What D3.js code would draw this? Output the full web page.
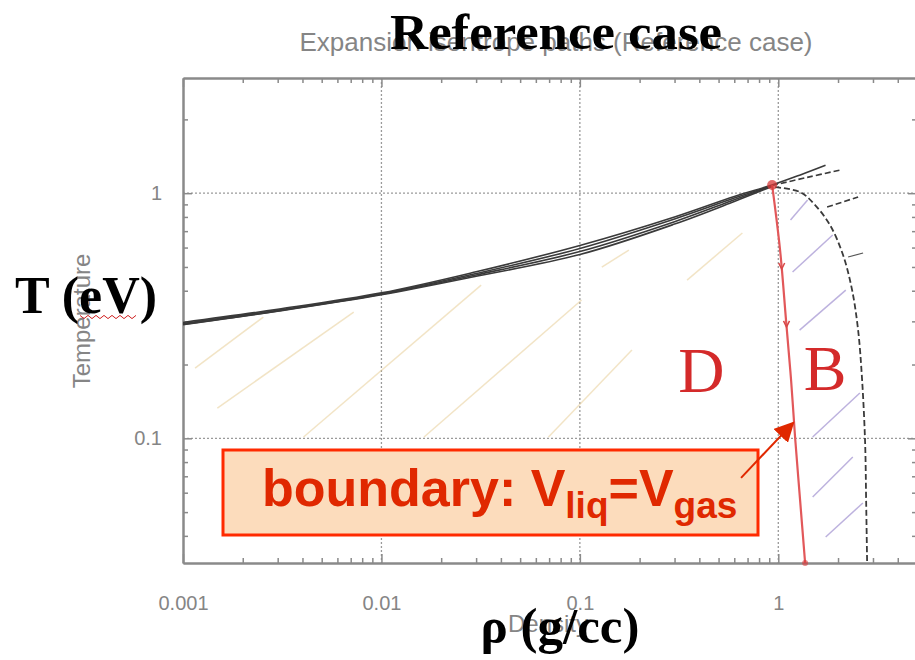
<!DOCTYPE html>
<html>
<head>
<meta charset="utf-8">
<script src="https://cdn.jsdelivr.net/npm/d3@7"></script>
<style>
  body { margin: 0; background: #fff; }
  svg { display: block; }
</style>
</head>
<body>
<svg id="chart" width="915" height="660"></svg>
<script>
// ---- axis ticks ----
const rhoTicks = [0.001, 0.01, 0.1, 1];
const rhoTickLabels = ["0.001", "0.01", "0.1", "1"];
const tempTicks = [0.1, 1];
const tempTickLabels = ["0.1", "1"];

// ---- expansion isentropes: [rho (g/cc), T (eV)] ----
const isentropeA = [[0.001,0.297],[0.003,0.336],[0.01,0.392],[0.03,0.478],[0.1,0.612],[0.3,0.80],[0.6,0.97],[0.93,1.08],[1.3,1.19],[1.73,1.30]];
const isentropeB = [[0.001,0.294],[0.003,0.333],[0.01,0.389],[0.03,0.470],[0.1,0.595],[0.3,0.785],[0.6,0.955],[0.93,1.075]];
const isentropeBTail = [[0.93,1.075],[1.4,1.16],[2.05,1.243]];
const isentropeC = [[0.001,0.292],[0.003,0.331],[0.01,0.387],[0.03,0.464],[0.1,0.578],[0.3,0.765],[0.6,0.94],[0.93,1.07]];
const isentropeD = [[0.001,0.291],[0.003,0.330],[0.01,0.385],[0.03,0.458],[0.1,0.562],[0.3,0.748],[0.6,0.925],[0.93,1.065]];

// ---- binodal dome (dashed) ----
const binodal = [[0.963,1.058],[1.288,1.01],[1.533,0.894],[1.824,0.740],[2.122,0.558],[2.355,0.402],[2.525,0.276],[2.645,0.1725],[2.739,0.0954],[2.771,0.0558],[2.803,0.031]];
const outerBranch = [[1.762,0.878],[2.525,0.965]];
const shortBranch = [[2.248,0.549],[2.675,0.570]];

// ---- V_liq = V_gas boundary ----
const boundary = [[0.931,1.078],[1.021,0.585],[1.094,0.303],[1.160,0.1725],[1.215,0.101],[1.288,0.0558],[1.365,0.031]];
const boundaryMarks = [[1.04,0.50],[1.10,0.29]];
const criticalPoint = [0.931, 1.08];

// ---- region shading strokes: [[rho,T],[rho,T]] ----
const regionDHatch = [
  [[0.00115,0.1935],[0.00254,0.3124]],
  [[0.00149,0.1329],[0.00725,0.3274]],
  [[0.00405,0.1012],[0.0318,0.4218]],
  [[0.0164,0.1012],[0.102,0.3665]],
  [[0.0695,0.1012],[0.183,0.229]],
  [[0.129,0.4995],[0.1766,0.586]],
  [[0.347,0.442],[0.659,0.688]]
];
const regionBHatch = [
  [[1.152,0.777],[1.405,0.937]],
  [[1.18,0.4767],[1.88,0.675]],
  [[1.28,0.2764],[2.188,0.4025]],
  [[1.49,0.1012],[2.576,0.153]],
  [[1.49,0.0576],[2.374,0.0839]],
  [[1.733,0.0396],[2.668,0.0545]]
];

// ---- region labels ----
const regionLabels = [{text:"D", rho:0.41, T:0.155}, {text:"B", rho:1.72, T:0.157}];

// ---- annotation arrow: tail -> tip ----
const arrowPts = [[0.649,0.069],[1.187,0.1156]];

const svg = d3.select("#chart");
const x = d3.scaleLog().domain([0.001, 5]).range([183, 917]);
const y = d3.scaleLog().domain([0.031, 2.95]).range([563, 78]);

const minorOf = (dom) => {
  const out = [];
  for (let e = -3; e <= 1; e++) for (let k = 2; k <= 9; k++) {
    const v = k * Math.pow(10, e);
    if (v > dom[0] * 1.0001 && v < dom[1] * 0.9999) out.push(v);
  }
  return out;
};
const xMinor = minorOf(x.domain());
const yMinor = minorOf(y.domain());

const grayTxt = "#858585";
const axisCol = "#8a8a8a";

// gnuplot-style labels underneath
svg.append("text")
  .attr("x", 556).attr("y", 51)
  .attr("text-anchor", "middle")
  .attr("font-family", "Liberation Sans, Arial, sans-serif")
  .attr("font-size", 26).attr("fill", grayTxt)
  .text("Expansion isentrope paths (Reference case)");
svg.append("text")
  .attr("transform", "translate(90,321) rotate(-90)")
  .attr("text-anchor", "middle")
  .attr("font-family", "Liberation Sans, Arial, sans-serif")
  .attr("font-size", 24).attr("fill", grayTxt)
  .text("Temperature");
svg.append("text")
  .attr("x", 548).attr("y", 632)
  .attr("text-anchor", "middle")
  .attr("font-family", "Liberation Sans, Arial, sans-serif")
  .attr("font-size", 24).attr("fill", grayTxt)
  .text("Density");

// grid (dotted)
const grid = svg.append("g").attr("stroke", "#9a9a9a").attr("stroke-width", 1.3).attr("stroke-dasharray", "2,2");
grid.selectAll("line.gx").data(rhoTicks.slice(1)).join("line")
  .attr("x1", d => x(d)).attr("x2", d => x(d))
  .attr("y1", y.range()[1]).attr("y2", y.range()[0]);
grid.selectAll("line.gy").data(tempTicks).join("line")
  .attr("class", "gy")
  .attr("x1", x.range()[0]).attr("x2", x.range()[1])
  .attr("y1", d => y(d)).attr("y2", d => y(d));

// axes with inward ticks
function styleAxis(g) {
  g.selectAll(".domain").attr("stroke", axisCol).attr("stroke-width", 2);
  g.selectAll(".tick line").attr("stroke", axisCol).attr("stroke-width", 1.5);
  g.selectAll(".tick text").attr("fill", grayTxt)
    .attr("font-family", "Liberation Sans, Arial, sans-serif").attr("font-size", 20);
}
const [y0, y1] = y.range();
const [x0, x1] = x.range();

svg.append("g").attr("transform", `translate(0,${y0})`)
  .call(d3.axisBottom(x).tickValues(xMinor).tickFormat("").tickSizeInner(-5).tickSizeOuter(0)).call(styleAxis);
svg.append("g").attr("transform", `translate(0,${y0})`)
  .call(d3.axisBottom(x).tickValues(rhoTicks).tickFormat((d, i) => rhoTickLabels[i]).tickSizeInner(-9).tickSizeOuter(0).tickPadding(33)).call(styleAxis);
svg.append("g").attr("transform", `translate(0,${y1})`)
  .call(d3.axisTop(x).tickValues(xMinor).tickFormat("").tickSizeInner(-5).tickSizeOuter(0)).call(styleAxis);
svg.append("g").attr("transform", `translate(0,${y1})`)
  .call(d3.axisTop(x).tickValues(rhoTicks).tickFormat("").tickSizeInner(-9).tickSizeOuter(0)).call(styleAxis);
svg.append("g").attr("transform", `translate(${x0},0)`)
  .call(d3.axisLeft(y).tickValues(yMinor).tickFormat("").tickSizeInner(-5).tickSizeOuter(0)).call(styleAxis);
svg.append("g").attr("transform", `translate(${x0},0)`)
  .call(d3.axisLeft(y).tickValues(tempTicks).tickFormat((d, i) => tempTickLabels[i]).tickSizeInner(-9).tickSizeOuter(0).tickPadding(21)).call(styleAxis);
svg.append("g").attr("transform", `translate(${x1},0)`)
  .call(d3.axisRight(y).tickValues(yMinor).tickFormat("").tickSizeInner(-5).tickSizeOuter(0)).call(styleAxis);
svg.append("g").attr("transform", `translate(${x1},0)`)
  .call(d3.axisRight(y).tickValues(tempTicks).tickFormat("").tickSizeInner(-9).tickSizeOuter(0)).call(styleAxis);

// region shading strokes
const seg = d3.line().x(d => x(d[0])).y(d => y(d[1]));
svg.append("g").selectAll("path").data(regionDHatch).join("path")
  .attr("d", seg).attr("fill", "none")
  .attr("stroke", "#e6c98e").attr("stroke-opacity", 0.5).attr("stroke-width", 1.5);
svg.append("g").selectAll("path").data(regionBHatch).join("path")
  .attr("d", seg).attr("fill", "none")
  .attr("stroke", "#9a88cc").attr("stroke-opacity", 0.65).attr("stroke-width", 1.5);

// curves
const curve = d3.line().x(d => x(d[0])).y(d => y(d[1])).curve(d3.curveCatmullRom);
const curves = svg.append("g").attr("fill", "none");
[isentropeD, isentropeC, isentropeB, isentropeA].forEach(s => {
  curves.append("path").attr("d", curve(s)).attr("stroke", "#3a3a3a").attr("stroke-width", 1.6);
});
curves.append("path").attr("d", curve(isentropeBTail)).attr("stroke", "#3a3a3a").attr("stroke-width", 1.6).attr("stroke-dasharray", "6,3");
curves.append("path").attr("d", curve(binodal)).attr("stroke", "#3a3a3a").attr("stroke-width", 1.8).attr("stroke-dasharray", "6,3");
curves.append("path").attr("d", seg(outerBranch)).attr("stroke", "#3a3a3a").attr("stroke-width", 1.6).attr("stroke-dasharray", "6,3");
curves.append("path").attr("d", seg(shortBranch)).attr("stroke", "#555").attr("stroke-width", 1.2);

// boundary
curves.append("path").attr("d", curve(boundary)).attr("stroke", "#e2585a").attr("stroke-width", 2.2);
svg.append("g").selectAll("path").data(boundaryMarks).join("path")
  .attr("d", d => `M${x(d[0]) - 3},${y(d[1]) - 4} L${x(d[0])},${y(d[1]) + 2} L${x(d[0]) + 3},${y(d[1]) - 4}`)
  .attr("fill", "none").attr("stroke", "#d84848").attr("stroke-width", 1.5);
svg.append("circle").attr("cx", x(criticalPoint[0])).attr("cy", y(criticalPoint[1])).attr("r", 5)
  .attr("fill", "#d83a3a").attr("fill-opacity", 0.75);
svg.append("circle").attr("cx", x(boundary[boundary.length - 1][0])).attr("cy", y0).attr("r", 3)
  .attr("fill", "#d83a3a").attr("fill-opacity", 0.6);

// region letters
svg.append("g").selectAll("text").data(regionLabels).join("text")
  .attr("x", d => x(d.rho)).attr("y", d => y(d.T))
  .attr("text-anchor", "middle")
  .attr("font-family", "Liberation Serif, Times New Roman, serif")
  .attr("font-size", 64).attr("fill", "#d42a2a")
  .text(d => d.text);

// annotation box
const ann = svg.append("g");
ann.append("rect").attr("x", 223).attr("y", 450).attr("width", 535).attr("height", 85)
  .attr("fill", "#fcdcbc").attr("stroke", "#ff2a00").attr("stroke-width", 3);
const at = ann.append("text").attr("x", 262).attr("y", 506)
  .attr("font-family", "Liberation Sans, Arial, sans-serif").attr("font-weight", "bold")
  .attr("fill", "#e02800").attr("font-size", 52);
at.append("tspan").text("boundary: V");
at.append("tspan").attr("font-size", 37).attr("dy", 12).text("liq");
at.append("tspan").attr("font-size", 52).attr("dy", -12).text("=V");
at.append("tspan").attr("font-size", 37).attr("dy", 12).text("gas");

svg.append("defs").append("marker")
  .attr("id", "head").attr("viewBox", "0 0 10 10").attr("refX", 9).attr("refY", 5)
  .attr("markerWidth", 20).attr("markerHeight", 20).attr("markerUnits", "userSpaceOnUse")
  .attr("orient", "auto")
  .append("path").attr("d", "M0,0 L10,5 L0,10 Z").attr("fill", "#e02800");
svg.append("path").attr("d", seg(arrowPts)).attr("stroke", "#e02800").attr("stroke-width", 2)
  .attr("fill", "none").attr("marker-end", "url(#head)");

// headline labels
svg.append("text").attr("x", 556).attr("y", 49).attr("text-anchor", "middle")
  .attr("font-family", "Liberation Serif, Times New Roman, serif").attr("font-weight", "bold")
  .attr("font-size", 50).attr("fill", "#000")
  .attr("textLength", 332).attr("lengthAdjust", "spacingAndGlyphs")
  .text("Reference case");
svg.append("text").attr("x", 15).attr("y", 313)
  .attr("font-family", "Liberation Serif, Times New Roman, serif").attr("font-weight", "bold")
  .attr("font-size", 52).attr("fill", "#000")
  .text("T (eV)");
svg.append("text").attr("x", 560).attr("y", 643).attr("text-anchor", "middle")
  .attr("font-family", "Liberation Serif, Times New Roman, serif").attr("font-weight", "bold")
  .attr("font-size", 51).attr("fill", "#000")
  .text("ρ (g/cc)");

// spell-check squiggle under "eV"
const sq = d3.range(0, 15).map(i => [80 + i * 4, 317 + (i % 2 ? 1.6 : -1.6)]);
svg.append("path").attr("d", d3.line()(sq)).attr("fill", "none").attr("stroke", "#d02020").attr("stroke-width", 1);
</script>
</body>
</html>
